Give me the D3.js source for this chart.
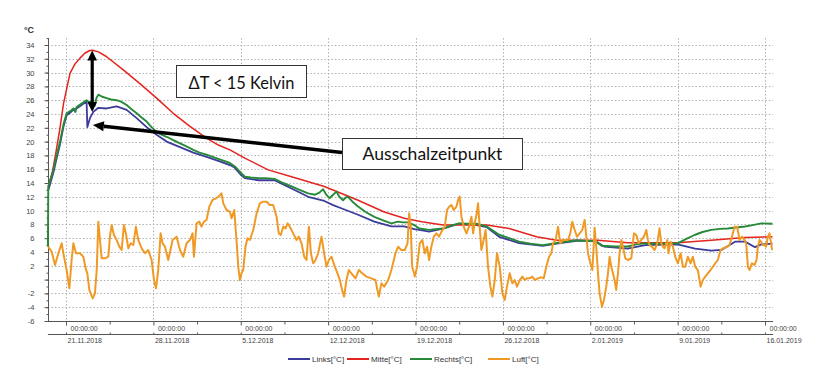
<!DOCTYPE html>
<html><head><meta charset="utf-8">
<script src="https://cdn.jsdelivr.net/npm/d3@7/dist/d3.min.js"></script>
<style>
html,body{margin:0;padding:0;background:#fff;}
svg{display:block;}
</style></head>
<body>
<svg id="c" width="817" height="387"></svg>
<script>
// ---------- DATA (day offset from 21.11.2018 00:00, value in °C) ----------
const links = [[-1.42,13.0],[-1.28,13.8],[-1.0,15.6],[-0.72,17.8],[-0.48,19.6],[-0.2,22.2],[0.05,23.8],[0.4,24.3],[0.6,24.6],[0.85,24.8],[1.25,25.3],[1.65,25.8],[1.71,22.1],[1.92,23.4],[2.19,24.3],[2.59,24.9],[3.26,24.8],[4.06,25.1],[4.86,24.6],[5.66,23.4],[6.46,22.1],[7.26,21.0],[8.06,20.0],[9.13,19.2],[10.2,18.4],[11.26,17.8],[12.2,17.2],[13.13,16.6],[13.53,16.2],[14.0,15.2],[14.33,14.7],[15.4,14.4],[16.7,14.4],[17.4,13.8],[18.07,13.2],[19.4,12.0],[20.7,11.4],[21.4,10.8],[22.1,10.3],[23.4,9.4],[24.7,8.4],[26.07,7.7],[27.1,7.7],[27.9,7.3],[28.3,7.2],[29.1,6.95],[30.2,7.4],[31.5,8.1],[32.9,7.9],[33.7,7.6],[34.7,6.2],[36.3,5.3],[38.2,4.9],[39.3,5.2],[40.9,5.6],[42.4,5.6],[43.1,4.8],[45.0,4.5],[46.4,5.0],[49.0,5.1],[50.4,4.5],[51.7,4.2],[52.5,4.3],[53.6,5.5],[54.4,5.5],[55.2,4.7],[55.7,5.1],[56.6,5.2]];
const mitte = [[-1.42,13.5],[-1.1,15.5],[-0.8,18.5],[-0.48,22.0],[-0.2,25.5],[0.32,29.9],[0.7,31.2],[1.12,32.1],[1.5,32.8],[1.9,33.2],[2.1,33.25],[2.6,33.0],[3.26,32.3],[4.59,30.4],[5.92,28.4],[7.26,26.3],[8.59,24.1],[9.93,22.2],[11.26,20.5],[12.2,19.5],[13.13,18.8],[14.33,17.6],[16.2,15.9],[18.07,14.9],[20.7,13.5],[23.4,11.5],[25.5,9.8],[27.1,8.9],[28.5,8.4],[30.2,7.9],[33.7,7.9],[35.5,7.4],[37.7,6.2],[39.3,5.7],[42.6,5.7],[45.0,5.35],[49.0,5.35],[51.7,5.7],[54.4,6.1],[56.6,6.2]];
const rechts = [[-1.45,4.8],[-1.42,13.5],[-1.28,14.3],[-1.0,16.0],[-0.72,18.2],[-0.48,20.0],[-0.2,22.5],[0.05,24.1],[0.4,24.5],[0.6,24.8],[0.75,24.3],[0.85,25.0],[1.25,25.5],[1.65,26.0],[1.8,25.8],[2.05,25.7],[2.3,25.2],[2.45,26.4],[2.6,26.8],[2.9,26.5],[3.26,26.3],[3.6,26.1],[4.06,26.0],[4.4,25.8],[4.86,25.3],[5.25,24.7],[5.66,24.1],[6.05,23.5],[6.46,22.9],[6.85,22.1],[7.26,21.4],[7.65,21.0],[8.06,20.7],[8.6,20.2],[9.13,19.75],[9.65,19.3],[10.2,18.8],[10.7,18.4],[11.26,18.1],[12.2,17.5],[13.13,16.9],[13.53,16.4],[14.0,15.5],[14.33,14.9],[14.8,14.8],[15.4,14.7],[16.0,14.7],[16.7,14.6],[17.4,14.0],[18.07,13.5],[18.7,13.0],[19.4,12.5],[19.94,12.3],[20.3,12.6],[20.6,13.1],[20.85,12.3],[21.1,11.8],[21.4,12.3],[21.67,12.75],[21.9,12.0],[22.2,11.5],[22.4,11.9],[22.6,12.0],[23.0,11.2],[23.4,10.6],[24.0,9.8],[24.7,9.1],[25.4,8.6],[26.07,8.15],[26.6,8.4],[27.0,8.3],[27.4,8.3],[27.9,7.9],[28.3,7.4],[29.1,7.2],[29.6,7.3],[30.2,7.4],[30.8,7.8],[31.5,8.15],[32.2,8.1],[32.9,8.1],[33.7,7.7],[34.2,7.1],[34.7,6.5],[35.5,6.0],[36.3,5.5],[37.2,5.2],[38.2,5.0],[39.3,5.3],[40.0,5.5],[40.9,5.7],[41.8,5.6],[42.4,5.6],[42.9,4.9],[44.0,4.8],[45.0,4.8],[45.7,5.1],[46.4,5.25],[47.5,5.2],[48.3,5.25],[49.0,5.25],[49.7,5.9],[50.4,6.5],[51.0,6.9],[51.7,7.2],[52.4,7.35],[53.0,7.4],[53.7,7.55],[54.4,7.7],[55.0,7.9],[55.7,8.15],[56.6,8.1]];
const luft = [[-1.42,4.77],[-1.15,4.05],[-0.88,2.12],[-0.61,3.81],[-0.35,5.26],[-0.16,3.32],[0.05,1.39],[0.27,-1.26],[0.45,2.84],[0.59,5.26],[0.80,3.81],[1.12,3.81],[1.39,3.32],[1.57,1.63],[1.71,0.91],[1.87,-1.50],[2.14,-2.71],[2.32,-1.99],[2.46,1.39],[2.59,8.40],[2.72,5.74],[2.86,3.08],[3.12,3.08],[3.39,3.32],[3.52,6.22],[3.66,7.91],[3.84,6.46],[4.06,5.74],[4.27,4.77],[4.46,4.29],[4.64,7.91],[4.80,6.70],[4.99,4.53],[5.18,5.26],[5.39,5.01],[5.60,7.67],[5.79,5.74],[6.06,4.53],[6.33,3.81],[6.59,4.29],[6.86,2.84],[7.05,-0.06],[7.21,-1.26],[7.39,1.39],[7.58,6.70],[7.74,5.26],[7.93,4.77],[8.19,2.84],[8.54,5.74],[8.86,6.22],[9.13,4.29],[9.39,3.32],[9.66,5.26],[9.93,5.74],[10.14,6.70],[10.25,3.32],[10.46,8.15],[10.68,8.40],[10.86,7.67],[11.05,8.40],[11.26,8.64],[11.48,10.57],[11.74,11.54],[12.01,11.78],[12.22,12.02],[12.46,12.50],[12.60,11.05],[12.86,10.09],[13.13,9.85],[13.26,8.88],[13.48,10.09],[13.66,5.74],[13.80,1.87],[13.93,-0.06],[14.06,0.91],[14.20,1.39],[14.38,4.77],[14.54,5.98],[14.73,5.74],[15.00,7.19],[15.27,9.60],[15.53,11.05],[15.80,11.29],[16.07,11.29],[16.33,10.81],[16.60,10.81],[16.87,9.12],[17.05,6.70],[17.21,6.46],[17.40,7.67],[17.59,7.43],[17.75,8.15],[17.93,7.67],[18.20,6.70],[18.47,5.74],[18.65,6.22],[18.87,5.26],[19.08,3.32],[19.27,2.84],[19.46,7.67],[19.62,3.81],[19.80,2.36],[19.99,2.84],[20.20,3.81],[20.47,6.22],[20.68,3.81],[20.87,1.87],[21.06,2.84],[21.27,3.32],[21.54,1.87],[21.75,0.91],[21.94,-0.06],[22.12,-1.50],[22.28,-2.47],[22.47,-0.06],[22.66,1.39],[22.87,0.91],[23.19,0.18],[23.46,1.39],[23.73,0.91],[24.07,0.43],[24.47,0.18],[24.79,-0.06],[24.95,-1.50],[25.06,-2.47],[25.27,-0.54],[25.49,-1.02],[25.81,-0.06],[26.07,1.39],[26.39,3.81],[26.61,4.77],[26.87,4.29],[27.14,4.29],[27.36,5.26],[27.49,9.60],[27.62,7.67],[27.73,1.87],[27.89,0.91],[27.94,0.43],[28.13,1.87],[28.34,5.26],[28.55,5.74],[28.74,3.81],[28.93,4.77],[29.09,2.84],[29.27,4.77],[29.46,6.22],[29.67,6.70],[29.89,6.22],[30.08,6.95],[30.34,7.67],[30.53,10.09],[30.69,10.57],[30.88,10.81],[31.06,10.09],[31.28,10.57],[31.41,11.54],[31.54,12.02],[31.68,9.12],[31.86,7.67],[32.08,6.70],[32.29,7.67],[32.48,9.12],[32.61,6.70],[32.74,8.15],[32.88,9.36],[33.01,11.05],[33.14,7.67],[33.28,4.29],[33.46,5.74],[33.62,7.19],[33.81,1.87],[34.00,-1.02],[34.16,-2.47],[34.35,-0.06],[34.53,3.81],[34.75,1.87],[34.96,-1.99],[35.15,-2.95],[35.33,-1.02],[35.55,0.91],[35.76,-0.54],[35.95,-0.06],[36.13,-1.02],[36.35,-0.06],[36.56,0.43],[36.75,-0.06],[36.93,0.18],[37.15,0.18],[37.36,0.43],[37.55,-0.06],[37.81,0.18],[38.08,0.33],[38.27,0.18],[38.48,1.87],[38.70,3.32],[38.88,3.81],[39.02,5.26],[39.23,5.74],[39.42,7.67],[39.60,5.26],[39.82,5.74],[40.03,5.74],[40.22,5.74],[40.40,6.70],[40.56,8.40],[40.75,7.19],[40.94,6.22],[41.15,6.70],[41.36,7.19],[41.55,8.64],[41.69,6.22],[41.82,3.81],[42.01,2.36],[42.17,1.39],[42.35,7.5],[42.48,4.77],[42.62,0.91],[42.75,-1.99],[42.94,-3.92],[43.10,-2.95],[43.28,-1.02],[43.42,0.91],[43.55,3.32],[43.68,1.87],[43.82,0.91],[43.95,-0.06],[44.08,-1.50],[44.22,0.91],[44.35,3.81],[44.49,5.74],[44.62,4.77],[44.81,3.08],[45.02,2.84],[45.29,3.08],[45.50,6.70],[45.69,6.46],[45.87,5.26],[46.09,5.74],[46.30,6.22],[46.49,7.19],[46.62,5.74],[46.75,5.01],[46.94,4.77],[47.15,4.29],[47.37,5.26],[47.55,7.43],[47.69,5.26],[47.82,4.77],[47.95,4.53],[48.17,5.74],[48.27,3.81],[48.43,5.50],[48.62,4.77],[48.81,3.32],[49.02,2.36],[49.24,3.81],[49.42,1.87],[49.61,1.87],[49.82,3.32],[50.04,2.36],[50.22,3.32],[50.41,1.87],[50.62,1.39],[50.84,-1.02],[51.02,-0.06],[51.21,0.43],[51.42,0.91],[51.64,1.39],[51.82,1.87],[52.01,2.36],[52.22,2.84],[52.44,4.29],[52.62,4.53],[52.89,4.68],[53.16,5.01],[53.35,6.22],[53.56,7.67],[53.77,7.67],[53.96,5.74],[54.15,6.22],[54.36,5.74],[54.49,5.26],[54.63,1.87],[54.76,1.39],[54.95,2.36],[55.16,2.12],[55.32,2.84],[55.43,4.77],[55.56,5.74],[55.69,5.50],[55.83,5.01],[55.96,5.01],[56.09,4.77],[56.23,6.22],[56.36,6.70],[56.49,5.26],[56.57,4.29]];

const seriesNames = ["Links[°C]","Mitte[°C]","Rechts[°C]","Luft[°C]"];
const seriesColors = ["#3c3c9c","#e4241e","#268a38","#f09a26"];
const yTickValues = [34,32,30,28,26,24,22,20,18,16,14,12,10,8,6,4,2,0,-2,-4,-6];
const yTickLabels = ["34","32","30","28","26","24","22","20","18","16","14","12","10","8","6","4","2","","-2","-4","-6"];
const xTickDays = [0,7,14,21,28,35,42,49,56];
const xTimeLabels = ["00:00:00","00:00:00","00:00:00","00:00:00","00:00:00","00:00:00","00:00:00","00:00:00","00:00:00"];
const xDateLabels = ["21.11.2018","28.11.2018","5.12.2018","12.12.2018","19.12.2018","26.12.2018","2.01.2019","9.01.2019","16.01.2019"];
const yUnit = "°C";
const noteDelta = "ΔT < 15 Kelvin";
const noteOff = "Ausschalzeitpunkt";
// annotation anchors (day, value)
const deltaArrow = {day:2.1, top:33.2, bottom:24.3};
const offArrow = {day:2.15, value:22.4};

// ---------- SCALES ----------
const DAY0 = Date.UTC(2018,10,21);
const toDate = d => new Date(DAY0 + d*864e5);
const x = d3.scaleUtc().domain([toDate(0), toDate(56)]).range([66,765]);
const y = d3.scaleLinear().domain([-6,34]).range([321,45]);
const xLeft = x(toDate(-1.45)), xRight = x(toDate(56.65));
const yTop = y(35), yBottom = y(-6);

const svg = d3.select("#c");
const font = "'Liberation Sans', Arial, sans-serif";

// grid
const grid = svg.append("g").attr("stroke","#b0b0b0").attr("stroke-width",1).attr("stroke-dasharray","1.5,2");
grid.selectAll("line.h").data(yTickValues.filter(v=>v>-6)).join("line")
  .attr("x1",xLeft).attr("x2",xRight).attr("y1",d=>Math.round(y(d))+0.5).attr("y2",d=>Math.round(y(d))+0.5);
grid.selectAll("line.v").data(xTickDays).join("line")
  .attr("x1",d=>Math.round(x(toDate(d)))+0.5).attr("x2",d=>Math.round(x(toDate(d)))+0.5)
  .attr("y1",yTop).attr("y2",yBottom);

// y axis
const yAxis = svg.append("g").attr("transform",`translate(${Math.round(xLeft)+0.5},0)`)
  .call(d3.axisLeft(y).tickValues(yTickValues).tickSize(4).tickFormat((d,i)=>yTickLabels[i]));
yAxis.select(".domain").remove();
const yMinor = svg.append("g").attr("transform",`translate(${Math.round(xLeft)+0.5},0)`)
  .call(d3.axisLeft(y).tickValues(d3.range(-6,36,1)).tickSize(2).tickFormat(""));
yMinor.select(".domain").remove();
svg.append("line").attr("x1",Math.round(xLeft)+0.5).attr("x2",Math.round(xLeft)+0.5)
  .attr("y1",yTop).attr("y2",yBottom).attr("stroke","#555");
[yAxis,yMinor].forEach(g=>{
  g.selectAll("line").attr("stroke","#555");
  g.selectAll("text").attr("font-family",font).attr("font-size",7.5).attr("fill","#444").attr("x",-14);
});
svg.append("text").attr("x",24).attr("y",33).attr("font-family",font).attr("font-size",9)
  .attr("font-weight","bold").attr("fill","#333").text(yUnit);

// x axes
const xAxis = svg.append("g").attr("transform",`translate(0,${Math.round(yBottom)+0.5})`)
  .call(d3.axisBottom(x).tickValues(xTickDays.map(toDate)).tickSize(4).tickFormat((d,i)=>xTimeLabels[i]));
xAxis.select(".domain").remove();
xAxis.selectAll("text").attr("text-anchor","start").attr("x",4).attr("y",5).attr("dy","0.71em");
const xMinor = svg.append("g").attr("transform",`translate(0,${Math.round(yBottom)+0.5})`)
  .call(d3.axisBottom(x).tickValues(xTickDays.slice(0,-1).map(d=>toDate(d+3.5))).tickSize(3).tickFormat(""));
xMinor.select(".domain").remove();
svg.append("line").attr("x1",xLeft).attr("x2",xRight).attr("y1",Math.round(yBottom)+0.5).attr("y2",Math.round(yBottom)+0.5).attr("stroke","#555");

const y2 = Math.round(yBottom)+13.5;
const xAxis2 = svg.append("g").attr("transform",`translate(0,${y2})`)
  .call(d3.axisBottom(x).tickValues(xTickDays.map(toDate)).tickSize(-2).tickFormat((d,i)=>xDateLabels[i]));
xAxis2.select(".domain").remove();
xAxis2.selectAll("text").attr("text-anchor","start").attr("x",1).attr("y",4).attr("dy","0.71em");
const xMinor2 = svg.append("g").attr("transform",`translate(0,${y2})`)
  .call(d3.axisBottom(x).tickValues(xTickDays.slice(0,-1).map(d=>toDate(d+3.5))).tickSize(-2).tickFormat(""));
xMinor2.select(".domain").remove();
svg.append("line").attr("x1",xLeft).attr("x2",xRight).attr("y1",y2).attr("y2",y2).attr("stroke","#555");
[xAxis,xMinor,xAxis2,xMinor2].forEach(g=>{
  g.selectAll("line").attr("stroke","#555");
  g.selectAll("text").attr("font-family",font).attr("font-size",7).attr("fill","#444");
});

// lines
const line = d3.line().x(d=>x(toDate(d[0]))).y(d=>y(d[1]));
const allSeries = [links,mitte,rechts,luft];
const widths = [1.8,1.5,1.9,2.0];
svg.append("g").selectAll("path").data(allSeries).join("path")
  .attr("d",line).attr("fill","none")
  .attr("stroke",(d,i)=>seriesColors[i])
  .attr("stroke-width",(d,i)=>widths[i])
  .attr("stroke-linejoin","round");

// legend
const lg = svg.append("g").attr("font-family",font).attr("font-size",8).attr("fill","#333");
const legendX = [288,347,410,488];
seriesNames.forEach((n,i)=>{
  lg.append("line").attr("x1",legendX[i]).attr("x2",legendX[i]+22).attr("y1",359).attr("y2",359)
    .attr("stroke",seriesColors[i]).attr("stroke-width",2);
  lg.append("text").attr("x",legendX[i]+24).attr("y",362).text(n);
});

// annotations
const ann = svg.append("g");
const noteFont = "Lato, 'Open Sans', sans-serif";
// double vertical arrow
const ax = x(toDate(deltaArrow.day)), ayT = y(deltaArrow.top), ayB = y(deltaArrow.bottom);
ann.append("line").attr("x1",ax).attr("x2",ax).attr("y1",ayT+8).attr("y2",ayB-8).attr("stroke","#000").attr("stroke-width",3.2);
ann.append("path").attr("d",`M${ax},${ayT} L${ax-4.8},${ayT+10} L${ax+4.8},${ayT+10} Z`).attr("fill","#000");
ann.append("path").attr("d",`M${ax},${ayB} L${ax-4.8},${ayB-10} L${ax+4.8},${ayB-10} Z`).attr("fill","#000");
// box ΔT
const b1 = {x:176,y:65,w:130,h:32};
ann.append("rect").attr("x",b1.x+0.5).attr("y",b1.y+0.5).attr("width",b1.w).attr("height",b1.h)
  .attr("fill","#fff").attr("stroke","#333").attr("stroke-width",1);
const t1 = ann.append("text").attr("x",b1.x+b1.w/2+0.5).attr("y",b1.y+23.5).attr("text-anchor","middle")
  .attr("font-family",noteFont).attr("font-size",18).attr("fill","#111").text(noteDelta);
// arrow to off point
const tipX = x(toDate(offArrow.day)), tipY = y(offArrow.value);
const b2 = {x:342,y:138,w:180,h:31};
const tailX = b2.x, tailY = 152.5;
const ang = Math.atan2(tailY-tipY, tailX-tipX);
const hl = 11, hw = 5;
const bx = tipX + Math.cos(ang)*hl, by = tipY + Math.sin(ang)*hl;
ann.append("line").attr("x1",bx).attr("y1",by).attr("x2",tailX).attr("y2",tailY).attr("stroke","#000").attr("stroke-width",3.4);
ann.append("path").attr("d",`M${tipX},${tipY} L${bx - Math.sin(ang)*hw},${by + Math.cos(ang)*hw} L${bx + Math.sin(ang)*hw},${by - Math.cos(ang)*hw} Z`).attr("fill","#000");
ann.append("rect").attr("x",b2.x+0.5).attr("y",b2.y+0.5).attr("width",b2.w).attr("height",b2.h)
  .attr("fill","#fff").attr("stroke","#333").attr("stroke-width",1);
const t2 = ann.append("text").attr("x",b2.x+b2.w/2+0.5).attr("y",b2.y+21.5).attr("text-anchor","middle")
  .attr("font-family",noteFont).attr("font-size",18).attr("fill","#111").text(noteOff);
// fit text widths to the reference
[[t1,106],[t2,140]].forEach(([t,w])=>{
  const L = t.node().getComputedTextLength();
  if (L>0) t.attr("font-size", 18*w/L);
});
</script>
</body></html>
